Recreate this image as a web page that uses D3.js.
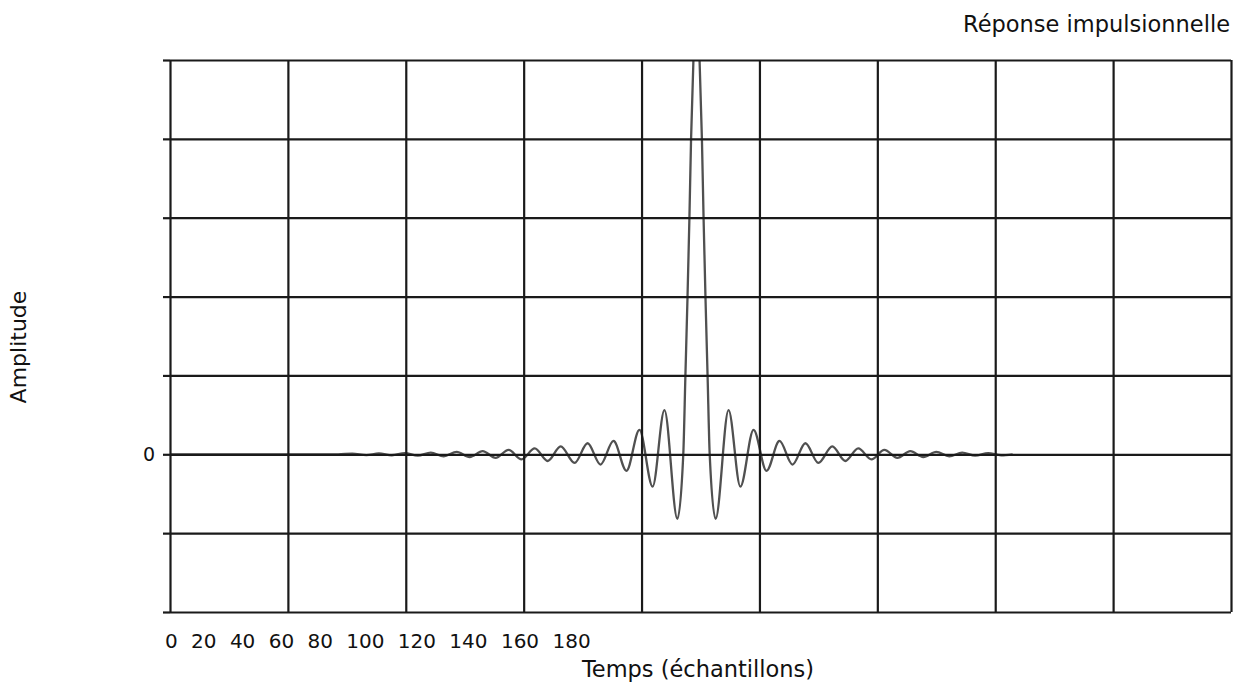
<!DOCTYPE html>
<html>
<head>
<meta charset="utf-8">
<script src="https://cdn.jsdelivr.net/npm/d3@7"></script>
<style>
  body { margin: 0; background: #fff; }
  text { font-family: "DejaVu Sans", sans-serif; fill: #111; }
</style>
</head>
<body>
<div id="wrapper"></div>
<script>
// sample positions (time axis) and amplitudes
const sampleTimes = [
  0, 40, 71.3, 77.3, 83.3, 88.6, 94.1, 99.6, 105.1, 110.6, 116.1, 121.6, 127.1,
  132.6, 138.1, 143.6, 149.1, 154.7, 160.2, 165.7, 171.6, 177.1, 182.6, 188.1,
  193.6, 199.1, 204.7, 209.7, 215.2, 217.7, 218.6, 219.5, 220.3, 221.0, 222.0,
  223.3,
  224.6, 225.6, 226.3, 227.1, 228.0, 228.9, 231.4, 236.9, 241.9, 247.5, 253.0,
  258.5, 264.0, 269.5, 275.0, 280.9, 286.4, 291.9, 297.5, 303.0, 308.5, 314.0,
  319.5, 325.0, 330.5, 336.0, 341.5, 347.0, 352.5, 357.4
];
const amplitudes = [
  0, 0, 0, 0.008, -0.01, 0.01, -0.012, 0.015, -0.018, 0.02, -0.025, 0.03, -0.035,
  0.04, -0.045, 0.055, -0.065, 0.075, -0.085, 0.10, -0.11, 0.14, -0.13, 0.17,
  -0.21, 0.31, -0.41, 0.56, -0.82, 0, 1.0, 2.0, 3.0, 4.0, 5.0,
  5.8,
  5.0, 4.0, 3.0, 2.0, 1.0, 0, -0.82, 0.56, -0.41, 0.31, -0.21,
  0.17, -0.13, 0.14, -0.11, 0.10, -0.085, 0.075, -0.065, 0.055, -0.045, 0.04,
  -0.035, 0.03, -0.025, 0.02, -0.018, 0.015, -0.012, 0
];
const xGridValues = [0, 50, 100, 150, 200, 250, 300, 350, 400, 450];
const yTickValues = [-2, -1, 0, 1, 2, 3, 4, 5];
const tickLabels = ['0', '20', '40', '60', '80', '100', '120', '140', '160', '180'];

const dataset = sampleTimes.map((t, i) => ({ t: t, a: amplitudes[i] }));

// dimensions
let dimensions = {
  width: 1240,
  height: 692,
  margin: { top: 60, right: 9, bottom: 80, left: 170 },
};
dimensions.innerWidth = dimensions.width - dimensions.margin.left - dimensions.margin.right;
dimensions.innerHeight = dimensions.height - dimensions.margin.top - dimensions.margin.bottom;

const wrapper = d3.select('#wrapper')
  .append('svg')
  .attr('width', dimensions.width)
  .attr('height', dimensions.height);

const bounds = wrapper.append('g')
  .attr('transform', `translate(${dimensions.margin.left},${dimensions.margin.top})`);

// scales
const xScale = d3.scaleLinear().domain([0, 450]).range([0, dimensions.innerWidth]);
const yScale = d3.scaleLinear().domain([-2, 5]).range([dimensions.innerHeight, 0]);

// grid
const styleGrid = (g) => {
  g.select('.domain').remove();
  g.selectAll('.tick line').attr('stroke', '#1a1a1a').attr('stroke-width', 2.2);
};

// impulse response curve (under the grid, like the original)
bounds.append('clipPath').attr('id', 'plot-clip')
  .append('rect')
  .attr('width', dimensions.innerWidth)
  .attr('height', dimensions.innerHeight);

const lineGenerator = d3.line()
  .x((d) => xScale(d.t))
  .y((d) => yScale(d.a))
  .curve(d3.curveMonotoneX);

bounds.append('path')
  .datum(dataset)
  .attr('clip-path', 'url(#plot-clip)')
  .attr('d', lineGenerator)
  .attr('fill', 'none')
  .attr('stroke', '#505050')
  .attr('stroke-width', 2.3);

bounds.append('g')
  .attr('transform', `translate(0,${dimensions.innerHeight})`)
  .call(d3.axisBottom(xScale).tickValues(xGridValues).tickSize(-dimensions.innerHeight).tickFormat(''))
  .call(styleGrid);

bounds.append('g')
  .call(d3.axisLeft(yScale).tickValues(yTickValues).tickSize(-dimensions.innerWidth).tickFormat(''))
  .call(styleGrid);

// left ticks, only 0 labelled
const yAxis = bounds.append('g')
  .call(d3.axisLeft(yScale).tickValues(yTickValues).tickSize(7).tickPadding(8)
    .tickFormat((d) => (d === 0 ? '0' : '')))
  .call(styleGrid);
yAxis.selectAll('text')
  .style('font-family', '"DejaVu Sans", sans-serif')
  .style('font-size', '19px')
  .attr('fill', '#111');

// odd tick label row under the axis
wrapper.append('text')
  .attr('x', 165)
  .attr('y', 648)
  .style('font-size', '20px')
  .style('word-spacing', '7px')
  .text(tickLabels.join(' '));

// titles
wrapper.append('text')
  .attr('x', 698)
  .attr('y', 677)
  .attr('text-anchor', 'middle')
  .style('font-size', '22.5px')
  .text('Temps (échantillons)');

wrapper.append('text')
  .attr('x', 1230)
  .attr('y', 32)
  .attr('text-anchor', 'end')
  .style('font-size', '22.5px')
  .text('Réponse impulsionnelle');

wrapper.append('text')
  .attr('transform', 'translate(26,347) rotate(-90)')
  .attr('text-anchor', 'middle')
  .style('font-size', '22px')
  .text('Amplitude');
</script>
</body>
</html>
